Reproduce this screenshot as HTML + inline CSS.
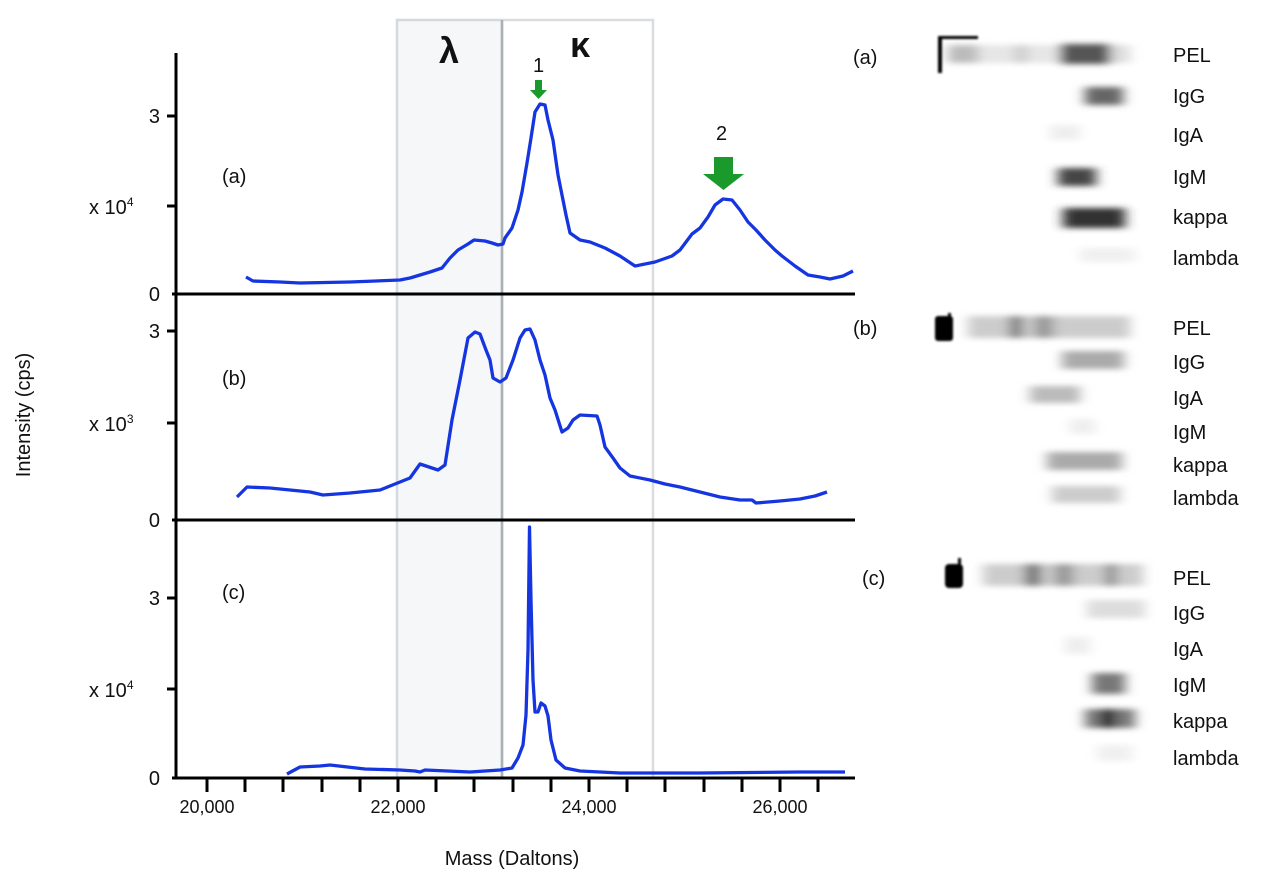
<!DOCTYPE html>
<html><head><meta charset="utf-8"><style>
html,body{margin:0;padding:0;background:#fff;}
svg{display:block;}
text{font-family:"Liberation Sans",Arial,sans-serif;fill:#111;}
</style></head><body>
<svg width="1280" height="881" viewBox="0 0 1280 881" xmlns="http://www.w3.org/2000/svg">
<defs>
<filter id="b" x="-30%" y="-60%" width="160%" height="220%"><feGaussianBlur stdDeviation="6 3"/></filter>
<filter id="b2" x="-50%" y="-50%" width="200%" height="200%"><feGaussianBlur stdDeviation="1"/></filter>
</defs>
<rect x="397" y="20" width="105" height="758" fill="#f5f7f9" stroke="#d3d9dc" stroke-width="2.5"/>
<rect x="502" y="20" width="151" height="758" fill="none" stroke="#d9dddf" stroke-width="2.5"/>
<line x1="502" y1="20" x2="502" y2="778" stroke="#aab1b4" stroke-width="2.5"/>
<text x="449" y="63" font-size="36" text-anchor="middle" font-family="Liberation Serif" font-weight="bold">λ</text>
<text x="580" y="57" font-size="36" text-anchor="middle" font-family="Liberation Serif" font-weight="bold">κ</text>
<g stroke="#000" stroke-width="3" fill="none">
<line x1="176" y1="53" x2="176" y2="779"/>
<line x1="172" y1="294" x2="855" y2="294"/>
<line x1="172" y1="520" x2="855" y2="520"/>
<line x1="172" y1="778" x2="855" y2="778"/>
<line x1="167" y1="116" x2="176" y2="116"/>
<line x1="167" y1="206" x2="176" y2="206"/>
<line x1="167" y1="331" x2="176" y2="331"/>
<line x1="167" y1="423" x2="176" y2="423"/>
<line x1="167" y1="598" x2="176" y2="598"/>
<line x1="167" y1="689" x2="176" y2="689"/>
<path d="M207 778v14M245 778v14M283 778v14M322 778v14M360 778v14M398 778v14M436 778v14M474 778v14M513 778v14M551 778v14M589 778v14M627 778v14M665 778v14M704 778v14M742 778v14M780 778v14M818 778v14"/>
</g>
<g font-size="20" text-anchor="end">
<text x="160" y="123">3</text><text x="160" y="301">0</text>
<text x="160" y="338">3</text><text x="160" y="527">0</text>
<text x="160" y="605">3</text><text x="160" y="785">0</text>
</g>
<g font-size="20">
<text x="89" y="214">x 10<tspan font-size="12" dy="-8">4</tspan></text>
<text x="89" y="431">x 10<tspan font-size="12" dy="-8">3</tspan></text>
<text x="89" y="697">x 10<tspan font-size="12" dy="-8">4</tspan></text>
<text x="222" y="183">(a)</text>
<text x="222" y="385">(b)</text>
<text x="222" y="599">(c)</text>
<text x="533" y="72">1</text>
<text x="716" y="140">2</text>
</g>
<g font-size="18" text-anchor="middle">
<text x="207" y="813">20,000</text><text x="398" y="813">22,000</text>
<text x="589" y="813">24,000</text><text x="780" y="813">26,000</text>
</g>
<text x="512" y="865" font-size="20" text-anchor="middle">Mass (Daltons)</text>
<text transform="translate(30,415) rotate(-90)" font-size="20" text-anchor="middle">Intensity (cps)</text>
<path d="M535 80h7v10h5l-8.5 9l-8.5-9h5z" fill="#1a9a2a"/>
<path d="M714 157h19v17h11l-20.5 16l-20.5-16h11z" fill="#1a9a2a"/>
<g fill="none" stroke="#1535e0" stroke-width="3.3" stroke-linejoin="round">
<path d="M246 277L253 281L280 282L300 283L350 282L400 280L410 278L430 272L442 268L450 258L458 250L468 244L474 240L485 241L492 243L498 245L503 244L505 238L512 228L518 210L522 192L527 163L531 138L535 112L540 104L545 105L548 120L553 140L558 175L562 195L566 215L570 233L580 240L590 242L605 248L620 256L635 266L655 262L672 256L680 250L692 234L700 228L708 217L715 205L723 199L732 200L740 210L748 222L756 230L765 240L775 250L782 256L795 266L808 275L820 277L830 279L843 276L853 271"/>
<path d="M237 497L247 487L270 488L310 492L323 495L350 493L380 490L395 484L410 478L420 464L432 468L438 470L445 465L452 420L460 380L468 338L475 332L480 334L486 350L490 360L493 378L500 382L506 378L513 360L520 338L525 330L530 329L535 340L540 360L545 375L550 398L555 410L562 432L568 428L573 420L580 415L597 416L600 425L605 447L613 458L620 468L630 476L650 480L665 484L680 487L700 492L720 497L740 500L752 500L756 503L780 501L800 499L815 496L827 492"/>
<path d="M287 774L300 767L320 766L330 765L365 769L400 770L415 771L420 772L425 770L470 772L500 770L512 768L518 758L523 745L526 715L528 650L529.5 527L531 600L533 680L535 712L538 712L541 703L545 706L548 716L551 740L556 760L565 768L580 771L620 773L700 773L800 772L845 772"/>
</g>
<g fill="#000">
<g filter="url(#b)">
<rect x="948" y="45" width="30" height="18" fill="#bbb"/>
<rect x="978" y="45" width="90" height="18" fill="#e6e6e6"/>
<rect x="1015" y="45" width="12" height="18" fill="#ccc"/>
<rect x="1060" y="44" width="50" height="20" fill="#555"/>
<rect x="1110" y="45" width="20" height="18" fill="#ddd"/>
<rect x="1085" y="87" width="38" height="18" fill="#666"/>
<rect x="1050" y="125" width="30" height="15" fill="#eee"/>
<rect x="1058" y="168" width="38" height="18" fill="#444"/>
<rect x="1063" y="208" width="62" height="20" fill="#333"/>
<rect x="1080" y="248" width="55" height="14" fill="#f0f0f0"/>
<rect x="968" y="316" width="162" height="22" fill="#ccc"/>
<rect x="1010" y="316" width="12" height="22" fill="#777"/>
<rect x="1035" y="316" width="18" height="22" fill="#999"/>
<rect x="1062" y="351" width="62" height="18" fill="#aaa"/>
<rect x="1030" y="386" width="50" height="17" fill="#bbb"/>
<rect x="1070" y="419" width="25" height="15" fill="#eee"/>
<rect x="1047" y="452" width="75" height="18" fill="#aaa"/>
<rect x="1052" y="486" width="68" height="17" fill="#ccc"/>
<rect x="983" y="564" width="160" height="22" fill="#ccc"/>
<rect x="1025" y="564" width="16" height="22" fill="#777"/>
<rect x="1055" y="564" width="18" height="22" fill="#999"/>
<rect x="1106" y="564" width="10" height="22" fill="#888"/>
<rect x="1087" y="600" width="58" height="18" fill="#ddd"/>
<rect x="1065" y="637" width="25" height="17" fill="#eee"/>
<rect x="1092" y="673" width="33" height="21" fill="#777"/>
<rect x="1085" y="709" width="50" height="19" fill="#777"/>
<rect x="1102" y="709" width="12" height="19" fill="#111"/>
<rect x="1097" y="745" width="35" height="16" fill="#f0f0f0"/>
</g>
<g filter="url(#b2)">
<rect x="938" y="37" width="4" height="36"/>
<rect x="938" y="36" width="40" height="3"/>
<rect x="935" y="316" width="18" height="25" rx="3"/>
<rect x="948" y="313" width="3" height="5"/>
<rect x="945" y="564" width="18" height="24" rx="4"/>
<rect x="958" y="558" width="3" height="7"/>
</g>
</g>
<g font-size="20">
<text x="853" y="64">(a)</text>
<text x="853" y="335">(b)</text>
<text x="862" y="585">(c)</text>
<text x="1173" y="62">PEL</text><text x="1173" y="103">IgG</text><text x="1173" y="142">IgA</text>
<text x="1173" y="184">IgM</text><text x="1173" y="224">kappa</text><text x="1173" y="265">lambda</text>
<text x="1173" y="335">PEL</text><text x="1173" y="369">IgG</text><text x="1173" y="405">IgA</text>
<text x="1173" y="439">IgM</text><text x="1173" y="472">kappa</text><text x="1173" y="505">lambda</text>
<text x="1173" y="585">PEL</text><text x="1173" y="620">IgG</text><text x="1173" y="656">IgA</text>
<text x="1173" y="692">IgM</text><text x="1173" y="728">kappa</text><text x="1173" y="765">lambda</text>
</g>
</svg>
</body></html>
